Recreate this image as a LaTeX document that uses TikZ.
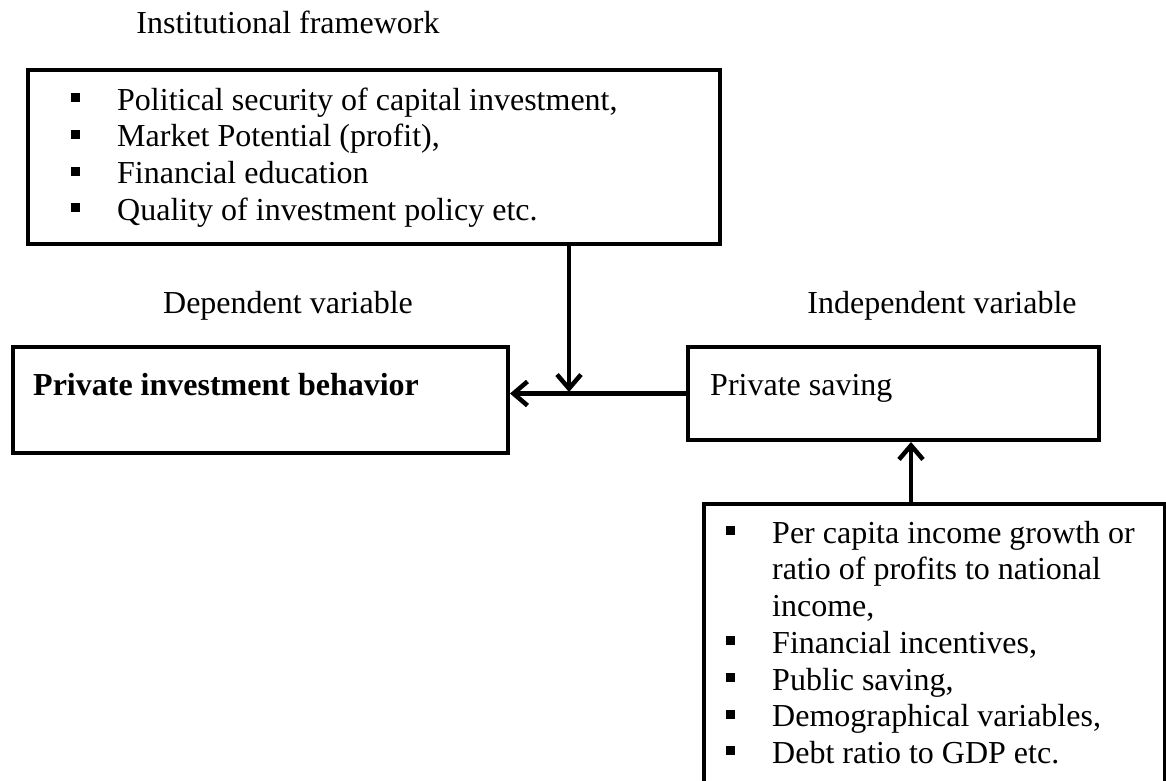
\documentclass[tikz,border=0pt]{standalone}
\usepackage{fontspec}
\setmainfont{Liberation Serif}
\usetikzlibrary{arrows.meta}
\newcommand\sqbullet{\makebox[46pt][l]{\raisebox{8pt}{\rule{9pt}{9pt}}}}
\begin{document}
\begin{tikzpicture}[x=1pt,y=-1pt,
  box/.style={draw, line width=4pt, inner sep=0pt, anchor=north west},
  txt/.style={inner sep=0pt, font=\fontsize{32}{36.7}\selectfont},
  lbl/.style={txt, anchor=base},
  listtxt/.style={txt, anchor=north west},
  conn/.style={line width=4.5pt, -{Straight Barb[length=14pt,width=24pt,line width=4.5pt]}}
]
\useasboundingbox (0,0) rectangle (1166,780);
\clip (0,0) rectangle (1166,780);

% labels
\node[lbl] (tinst) at (288,33) {Institutional framework};
\node[lbl] (tdep) at (288,313) {Dependent variable};
\node[lbl] (tindep) at (942,313) {Independent variable};

% boxes
\node[box, minimum width=692pt, minimum height=174pt] (inst) at (26,68) {};
\node[box, minimum width=495pt, minimum height=106pt] (dep) at (11,345) {};
\node[box, minimum width=411pt, minimum height=93pt] (saving) at (686,345) {};
\node[box, minimum width=461pt, minimum height=330pt] (factors) at (702,502) {};

% box texts
\node[listtxt] (instlist) at (71,84.3) {\begin{tabular}{@{}l@{}l@{}}
\sqbullet & Political security of capital investment,\\
\sqbullet & Market Potential (profit),\\
\sqbullet & Financial education\\
\sqbullet & Quality of investment policy etc.
\end{tabular}};
\node[txt, anchor=base west] (deptxt) at (33,395) {\bfseries Private investment behavior};
\node[txt, anchor=base west] (savtxt) at (710,395) {Private saving};
\node[listtxt] (factlist) at (726,517.3) {\begin{tabular}{@{}l@{}l@{}}
\sqbullet & Per capita income growth or\\
 & ratio of profits to national\\
 & income,\\
\sqbullet & Financial incentives,\\
\sqbullet & Public saving,\\
\sqbullet & Demographical variables,\\
\sqbullet & Debt ratio to GDP etc.
\end{tabular}};

% connectors
\coordinate (j) at (569,392);
\coordinate (k) at (911,440);
\draw[conn] (inst.south -| j) -- (j);
\draw[conn] (saving.west) -- (dep.east |- saving.west);
\draw[conn] (factors.north -| k) -- (saving.south -| k);
\end{tikzpicture}
\end{document}
